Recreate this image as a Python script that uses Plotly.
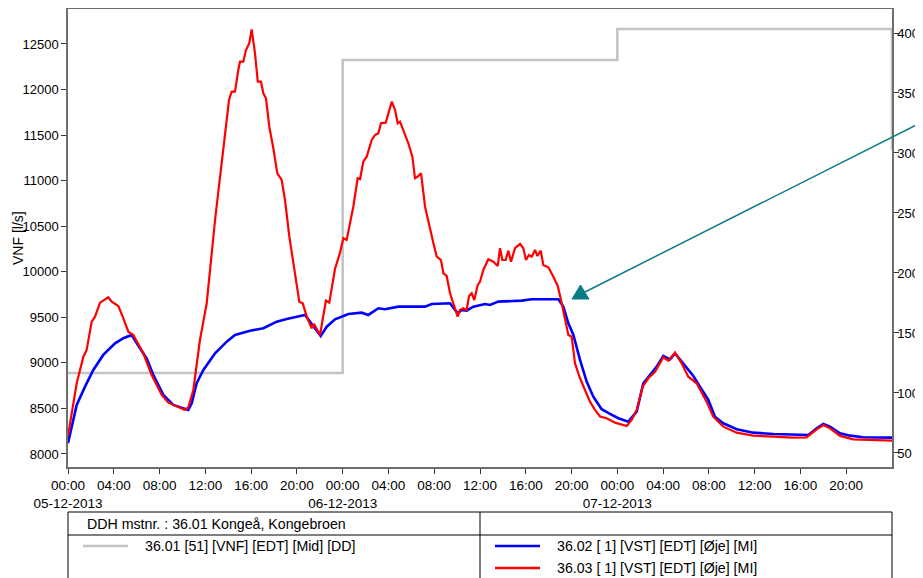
import pandas as pd
import plotly.graph_objects as go

# ---------------- data ----------------
start_date = "2013-12-05"

vnf_hours = [0, 24, 48, 72, 72]
vnf_values = [8889, 12325, 12665, 12665, 11340]

blue_hours = [0.0, 0.76, 1.49, 2.21, 3.08, 4.11, 4.84, 5.56, 6.29, 6.87, 7.46, 8.33, 9.20, 9.94,
              10.51, 10.81, 11.24, 11.83, 12.85, 13.87, 14.59, 15.90, 17.07, 18.24, 19.11, 20.71,
              21.44, 22.08, 22.61, 23.33, 24.50, 25.66, 26.24, 27.12, 27.70, 28.87, 31.20, 31.78,
              33.38, 34.05, 34.40, 34.84, 35.42, 36.44, 36.87, 37.60, 39.64, 40.52, 42.85, 43.28,
              43.72, 44.16, 44.74, 45.32, 45.90, 46.63, 47.36, 48.09, 48.96, 49.69, 50.27, 50.86,
              51.44, 52.02, 52.37, 52.60, 53.04, 53.48, 54.06, 54.64, 55.22, 55.95, 56.53, 57.26,
              58.43, 59.88, 61.63, 63.38, 64.69, 65.42, 66.00, 66.58, 67.46, 68.33, 69.49, 72.0]
blue_values = [8117, 8538, 8739, 8922, 9087, 9215, 9270, 9306, 9160, 9050, 8867, 8648, 8538, 8502,
               8483, 8556, 8776, 8922, 9105, 9233, 9306, 9353, 9380, 9452, 9482, 9526,
               9397, 9295, 9397, 9478, 9537, 9551, 9526, 9599, 9588, 9617, 9617, 9646,
               9654, 9544, 9581, 9573, 9617, 9646, 9635, 9672, 9683, 9698, 9698, 9617,
               9434, 9306, 9032, 8794, 8629, 8491, 8439, 8392, 8355, 8464, 8776, 8867,
               8958, 9076, 9050, 9039, 9105, 9039, 8941, 8856, 8739, 8593, 8409, 8337,
               8271, 8234, 8220, 8209, 8209, 8282, 8329, 8300, 8227, 8201, 8183, 8179]

red_hours = [0.0, 0.76, 1.34, 1.63, 2.07, 2.36, 2.80, 3.52, 3.82, 4.40, 4.84, 5.27, 5.71, 6.58,
             7.31, 8.19, 8.77, 9.64, 10.22, 10.51, 10.95, 11.53, 12.12, 12.85, 13.57, 14.07,
             14.30, 14.59, 14.88, 15.03, 15.32, 15.55, 15.84, 16.05, 16.34, 16.58, 16.86, 17.07,
             17.30, 17.59, 17.94, 18.29, 18.67, 18.96, 19.34, 19.84, 20.21, 20.51, 20.86, 21.29,
             21.50, 22.02, 22.31, 22.54, 22.83, 23.04, 23.33, 23.77, 24.06, 24.35, 24.93, 25.31,
             25.52, 25.80, 26.10, 26.54, 26.83, 27.12, 27.35, 27.76, 27.99, 28.29, 28.58, 28.81,
             29.01, 29.30, 29.74, 30.09, 30.32, 30.56, 30.85, 31.20, 31.49, 31.93, 32.22, 32.59,
             32.80, 33.09, 33.38, 33.67, 34.05, 34.25, 34.54, 34.84, 35.04, 35.27, 35.50, 35.80,
             36.00, 36.29, 36.73, 37.16, 37.55, 37.75, 37.95, 38.24, 38.47, 38.71, 39.06, 39.50,
             39.78, 40.02, 40.28, 40.52, 40.81, 41.01, 41.31, 41.53, 41.97, 42.41, 42.79, 43.08,
             43.37, 43.72, 44.01, 44.30, 44.74, 45.18, 45.61, 46.05, 46.49, 47.07, 47.80, 48.52,
             48.82, 49.25, 49.69, 50.21, 50.71, 51.29, 52.02, 52.46, 53.04, 53.62, 54.20, 54.93,
             55.80, 56.38, 57.26, 58.43, 59.88, 61.63, 63.38, 64.54, 65.42, 66.00, 66.58, 67.46,
             68.62, 72.0]
red_values = [8200, 8776, 9068, 9141, 9452, 9507, 9661, 9720, 9672, 9624, 9489, 9342, 9306, 9105,
              8867, 8648, 8563, 8513, 8483, 8513, 8702, 9251, 9654, 10568, 11373, 11885,
              11977, 11977, 12215, 12306, 12306, 12434, 12508, 12661, 12398, 12086, 12086, 11959,
              11904, 11592, 11355, 11081, 11007, 10788, 10385, 9983, 9672, 9654, 9507, 9380,
              9427, 9306, 9544, 9683, 9661, 9800, 10030, 10210, 10368, 10349, 10714, 11026,
              11018, 11208, 11263, 11446, 11501, 11520, 11630, 11636, 11740, 11867, 11776, 11630,
              11648, 11556, 11410, 11263, 11026, 11044, 11081, 10714, 10568, 10313, 10166, 10129,
              9983, 9954, 9764, 9654, 9507, 9581, 9599, 9581, 9734, 9764, 9690, 9855,
              9891, 10020, 10137, 10111, 10064, 10258, 10129, 10129, 10231, 10111, 10258, 10305,
              10258, 10129, 10184, 10166, 10239, 10173, 10231, 10074, 10049, 9946, 9844, 9690,
              9507, 9306, 9287, 8995, 8831, 8702, 8574, 8483, 8412, 8392, 8344, 8318,
              8307, 8373, 8483, 8739, 8831, 8903, 9061, 9024, 9112, 8995, 8848, 8776,
              8574, 8409, 8300, 8234, 8201, 8190, 8179, 8183, 8271, 8318, 8282, 8198,
              8161, 8146]

tick_hours = list(range(0, 72, 4))
day_labels = ["05-12-2013", "06-12-2013", "07-12-2013"]

left_ticks = list(range(8000, 12501, 500))
right_ticks = list(range(50, 401, 50))

header_text = "DDH mstnr. : 36.01 Kongeå, Kongebroen"
legend_gray = "36.01 [51] [VNF] [EDT] [Mid] [DD]"
legend_blue = "36.02 [ 1] [VST] [EDT] [Øje] [MI]"
legend_red = "36.03 [ 1] [VST] [EDT] [Øje] [MI]"
y_title = "VNF [l/s]"

# ---------------- build ----------------
base = pd.Timestamp(start_date)


def to_time(hours):
    return [base + pd.Timedelta(hours=h) for h in hours]


tick_vals = to_time(tick_hours)
tick_text = []
for h in tick_hours:
    lbl = f"{h % 24:02d}:00"
    if h % 24 == 0:
        lbl += "<br>" + day_labels[h // 24]
    tick_text.append(lbl)

FONT = "Liberation Sans, Arial, sans-serif"
AXC = "#6e6e6e"

fig = go.Figure()
fig.add_trace(go.Scatter(x=to_time(vnf_hours), y=vnf_values, mode="lines",
                         line=dict(color="#c3c3c3", width=2.5, shape="hv"),
                         showlegend=False, yaxis="y"))
fig.add_trace(go.Scatter(x=to_time(blue_hours), y=blue_values, mode="lines",
                         line=dict(color="#0000ff", width=2.6),
                         showlegend=False, yaxis="y"))
fig.add_trace(go.Scatter(x=to_time(red_hours), y=red_values, mode="lines",
                         line=dict(color="#ff0000", width=2.2),
                         showlegend=False, yaxis="y"))
# invisible trace to activate right axis
fig.add_trace(go.Scatter(x=[base], y=[100], mode="markers", marker=dict(opacity=0),
                         showlegend=False, yaxis="y2", hoverinfo="skip"))

# page body margin offset (browser default 8px)
OFF = 8
FIG_W, FIG_H = 923, 578
# plot area in screen pixels
SL, SR, ST, SB = 68, 892, 9, 467
L, R, T, B = SL - OFF, SR - OFF, ST - OFF, SB - OFF
W, H = R - L, B - T


def px(x):  # screen x -> paper
    return (x - OFF - L) / W


def py(y):  # screen y -> paper
    return (B - (y - OFF)) / H


shapes = []
line_black = dict(color="#000000", width=1)
# table
shapes.append(dict(type="line", xref="paper", yref="paper", x0=px(68), x1=px(892), y0=py(512), y1=py(512), line=line_black))
shapes.append(dict(type="line", xref="paper", yref="paper", x0=px(68), x1=px(892), y0=py(535), y1=py(535), line=line_black))
for xv in (68, 480, 892):
    shapes.append(dict(type="line", xref="paper", yref="paper", x0=px(xv), x1=px(xv), y0=py(512), y1=py(590), line=line_black))
# legend samples
shapes.append(dict(type="line", xref="paper", yref="paper", x0=px(83), x1=px(128), y0=py(546), y1=py(546), line=dict(color="#c3c3c3", width=2.5)))
shapes.append(dict(type="line", xref="paper", yref="paper", x0=px(495), x1=px(540), y0=py(546), y1=py(546), line=dict(color="#0000ff", width=2.5)))
shapes.append(dict(type="line", xref="paper", yref="paper", x0=px(495), x1=px(540), y0=py(568), y1=py(568), line=dict(color="#ff0000", width=2.5)))
# arrow
TEAL = "#0a7c87"
shapes.append(dict(type="line", xref="paper", yref="paper", x0=px(926), y0=py(120), x1=px(585), y1=py(292), line=dict(color=TEAL, width=1.5)))
tri = f"M {px(580.5)} {py(285)} L {px(572)} {py(299)} L {px(589)} {py(299)} Z"
shapes.append(dict(type="path", xref="paper", yref="paper", path=tri, fillcolor=TEAL, line=dict(color=TEAL, width=1)))

LEG_FS = 14.2
annotations = [
    dict(text=header_text, x=px(85), y=py(524), xref="paper", yref="paper", xanchor="left", yanchor="middle", showarrow=False,
         font=dict(family=FONT, size=LEG_FS, color="#000")),
    dict(text=legend_gray, x=px(143), y=py(546), xref="paper", yref="paper", xanchor="left", yanchor="middle", showarrow=False,
         font=dict(family=FONT, size=LEG_FS, color="#000")),
    dict(text=legend_blue, x=px(555), y=py(546), xref="paper", yref="paper", xanchor="left", yanchor="middle", showarrow=False,
         font=dict(family=FONT, size=LEG_FS, color="#000")),
    dict(text=legend_red, x=px(555), y=py(568), xref="paper", yref="paper", xanchor="left", yanchor="middle", showarrow=False,
         font=dict(family=FONT, size=LEG_FS, color="#000")),
    dict(text=y_title, x=px(18), y=py(238), xref="paper", yref="paper", xanchor="center", yanchor="middle", showarrow=False,
         textangle=-90, font=dict(family=FONT, size=14, color="#000")),
]

fig.update_layout(
    width=FIG_W, height=FIG_H,
    margin=dict(l=L, r=FIG_W - R, t=T, b=FIG_H - B, pad=0, autoexpand=False),
    paper_bgcolor="white", plot_bgcolor="white",
    font=dict(family=FONT, size=13, color="#000"),
    showlegend=False,
    shapes=shapes,
    annotations=annotations,
    xaxis=dict(type="date", range=[base, base + pd.Timedelta(hours=72)],
               tickmode="array", tickvals=tick_vals, ticktext=tick_text, tickangle=0,
               ticks="outside", ticklen=5, tickcolor="#333", showgrid=False, zeroline=False,
               showline=True, linecolor=AXC, linewidth=1.5, mirror=True, automargin=False,
               tickfont=dict(family=FONT, size=13.5, color="#000")),
    yaxis=dict(range=[7857, 12884], tickmode="array", tickvals=left_ticks,
               ticktext=[str(v) for v in left_ticks],
               ticks="outside", ticklen=5, tickcolor="#333", showgrid=False, zeroline=False,
               showline=True, linecolor=AXC, linewidth=1.5, automargin=False,
               tickfont=dict(family=FONT, size=13, color="#000")),
    yaxis2=dict(range=[38.3, 420], tickmode="array", tickvals=right_ticks,
                ticktext=[str(v) for v in right_ticks], overlaying="y", side="right",
                ticks="outside", ticklen=5, tickcolor="#333", showgrid=False, zeroline=False,
                showline=True, linecolor=AXC, linewidth=1.5, automargin=False,
                ticklabelstandoff=-4,
                tickfont=dict(family=FONT, size=13, color="#000")),
)

fig.write_html("out.html")
